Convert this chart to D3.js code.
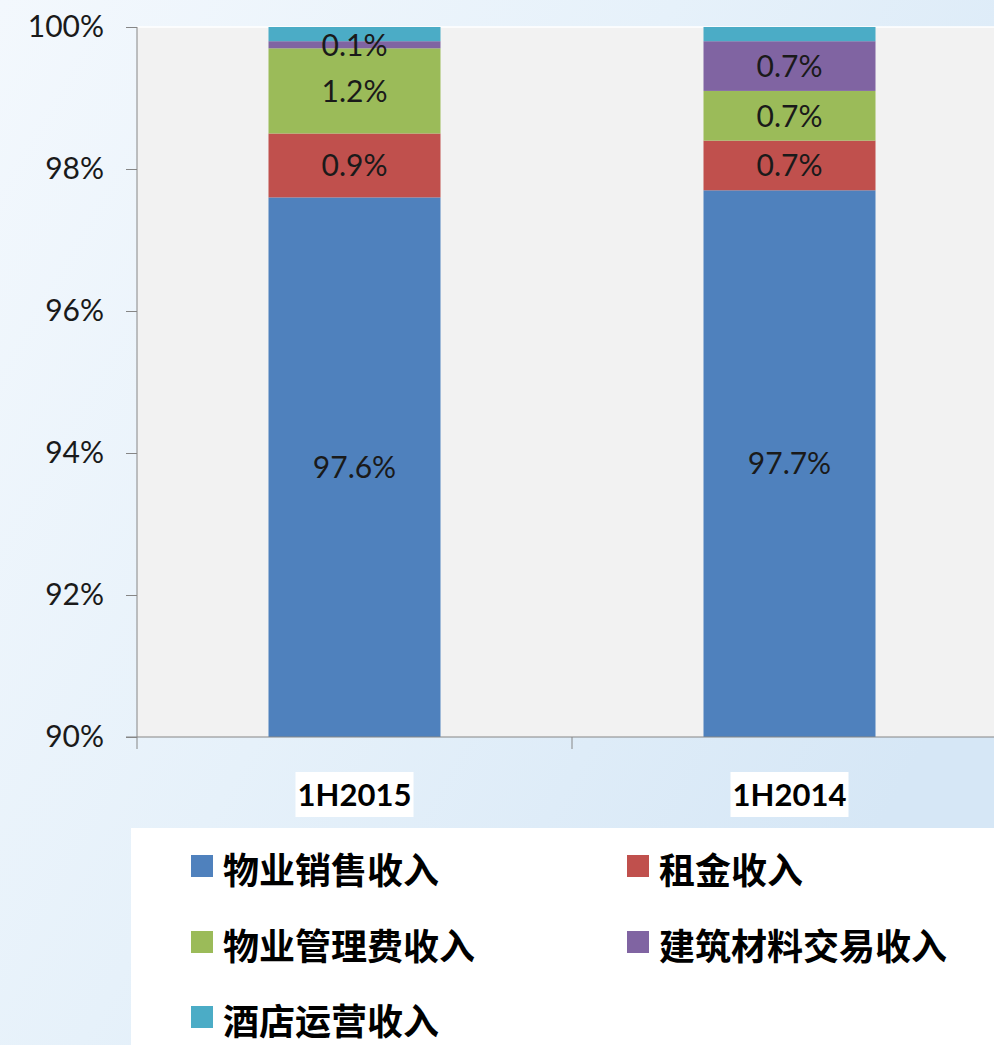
<!DOCTYPE html>
<html>
<head>
<meta charset="utf-8">
<script src="https://cdn.jsdelivr.net/npm/d3@7/dist/d3.min.js"></script>
<style>
html,body{margin:0;padding:0;overflow:hidden;}
svg{display:block;}
</style>
</head>
<body>
<svg id="chart" width="994" height="1045"></svg>
<script>
const categories = ["1H2015", "1H2014"];
const seriesNames = ["物业销售收入", "租金收入", "物业管理费收入", "建筑材料交易收入", "酒店运营收入"];
const salesValues = [97.6, 97.7];
const rentValues = [0.9, 0.7];
const mgmtValues = [1.2, 0.7];
const materialsValues = [0.1, 0.7];
const hotelValues = [0.2, 0.2];
const labelledSeries = [true, true, true, true, false];
const seriesColors = ["#4f81bd", "#c0504d", "#9bbb59", "#8064a2", "#4bacc6"];
const yTicks = [90, 92, 94, 96, 98, 100];

const seriesValues = [salesValues, rentValues, mgmtValues, materialsValues, hotelValues];
const rows = categories.map((c, i) => {
  const r = {cat: c};
  seriesNames.forEach((s, j) => r[s] = seriesValues[j][i]);
  return r;
});

const svg = d3.select("#chart");
const W = 994, H = 1045;

// background gradient
const defs = svg.append("defs");
const grad = defs.append("linearGradient").attr("id", "bg")
  .attr("x1", "0").attr("y1", "0").attr("x2", "1").attr("y2", "0.6");
grad.append("stop").attr("offset", "0").attr("stop-color", "#f3f8fd");
grad.append("stop").attr("offset", "0.5").attr("stop-color", "#e6f1fa");
grad.append("stop").attr("offset", "1").attr("stop-color", "#d6e7f6");
svg.append("rect").attr("width", W).attr("height", H).attr("fill", "url(#bg)");

const plot = {left: 137, right: 1007, top: 27, bottom: 737};
const barRatio = 172 / 435;
const x = d3.scaleBand().domain(categories)
  .range([plot.left, plot.right])
  .paddingInner(1 - barRatio).paddingOuter((1 - barRatio) / 2);
const y = d3.scaleLinear().domain([90, 100]).range([plot.bottom, plot.top]).clamp(true);

// plot area
svg.append("rect").attr("x", plot.left).attr("y", plot.top)
  .attr("width", plot.right - plot.left).attr("height", plot.bottom - plot.top)
  .attr("fill", "#f2f2f2");
svg.append("line").attr("x1", plot.left).attr("x2", plot.right)
  .attr("y1", plot.top).attr("y2", plot.top).attr("stroke", "#ffffff").attr("stroke-width", 1.5);

const stack = d3.stack().keys(seriesNames);
const stacked = stack(rows);

const gBars = svg.append("g");
stacked.forEach((layer, j) => {
  gBars.selectAll(null).data(layer).enter().append("rect")
    .attr("x", d => x(d.data.cat))
    .attr("width", x.bandwidth())
    .attr("y", d => y(d[1]))
    .attr("height", d => y(d[0]) - y(d[1]))
    .attr("fill", seriesColors[j]);
});

// data labels
stacked.forEach((layer, j) => {
  if (!labelledSeries[j]) return;
  gBars.selectAll(null).data(layer).enter().append("text")
    .attr("x", d => x(d.data.cat) + x.bandwidth() / 2)
    .attr("y", d => (y(d[0]) + y(d[1])) / 2)
    .attr("dy", "0.36em")
    .attr("text-anchor", "middle")
    .attr("font-family", "Lato, 'Liberation Sans', sans-serif")
    .attr("font-size", 30)
    .attr("fill", "#1a1a1a")
    .text(d => d3.format(".1f")(d[1] - d[0]) + "%");
});

// y axis
const yAxis = d3.axisLeft(y).tickValues(yTicks).tickSize(11).tickPadding(22)
  .tickFormat(d => d + "%");
const gy = svg.append("g").attr("transform", `translate(${plot.left},0)`).call(yAxis);
gy.select(".domain").remove();
gy.append("line").attr("x1", 0).attr("x2", 0).attr("y1", plot.top).attr("y2", plot.bottom + 12)
  .attr("stroke", "#868686");
gy.selectAll(".tick line").attr("stroke", "#868686");
gy.selectAll(".tick text").attr("font-family", "Lato, 'Liberation Sans', sans-serif")
  .attr("font-size", 30).attr("fill", "#1a1a1a");

// x axis
const gx = svg.append("g").attr("transform", `translate(0,${plot.bottom})`);
gx.append("line").attr("x1", plot.left - 11).attr("x2", plot.right).attr("y1", 0).attr("y2", 0)
  .attr("stroke", "#868686");
const step = x.step();
gx.selectAll(null).data(categories.slice(1)).enter().append("line")
  .attr("x1", d => x(d) - (step - x.bandwidth()) / 2)
  .attr("x2", d => x(d) - (step - x.bandwidth()) / 2)
  .attr("y1", 0).attr("y2", 12).attr("stroke", "#868686");
const catG = gx.selectAll(null).data(categories).enter().append("g")
  .attr("transform", d => `translate(${x(d) + x.bandwidth() / 2},60)`);
catG.append("rect").attr("x", -59).attr("y", -25).attr("width", 118).attr("height", 45).attr("fill", "#ffffff");
catG.append("text").attr("text-anchor", "middle").attr("dy", "0.36em").attr("y", -2)
  .attr("font-family", "Lato, 'Liberation Sans', sans-serif").attr("font-weight", "bold")
  .attr("font-size", 31).attr("fill", "#000")
  .text(d => d);

// legend
svg.append("rect").attr("x", 131).attr("y", 828).attr("width", W - 131).attr("height", H - 828)
  .attr("fill", "#ffffff");
const legendCols = [191, 627];
const legendRows = [866, 942, 1017];
const lg = svg.append("g");
seriesNames.forEach((name, i) => {
  const cx = legendCols[i % 2], cy = legendRows[Math.floor(i / 2)];
  lg.append("rect").attr("x", cx).attr("y", cy - 11).attr("width", 22).attr("height", 22)
    .attr("fill", seriesColors[i]);
  lg.append("text").attr("x", cx + 32).attr("y", cy + 5).attr("dy", "0.36em")
    .attr("font-family", "'Noto Sans CJK SC', sans-serif").attr("font-weight", "bold")
    .attr("font-size", 36).attr("fill", "#000")
    .text(name);
});
</script>
</body>
</html>
